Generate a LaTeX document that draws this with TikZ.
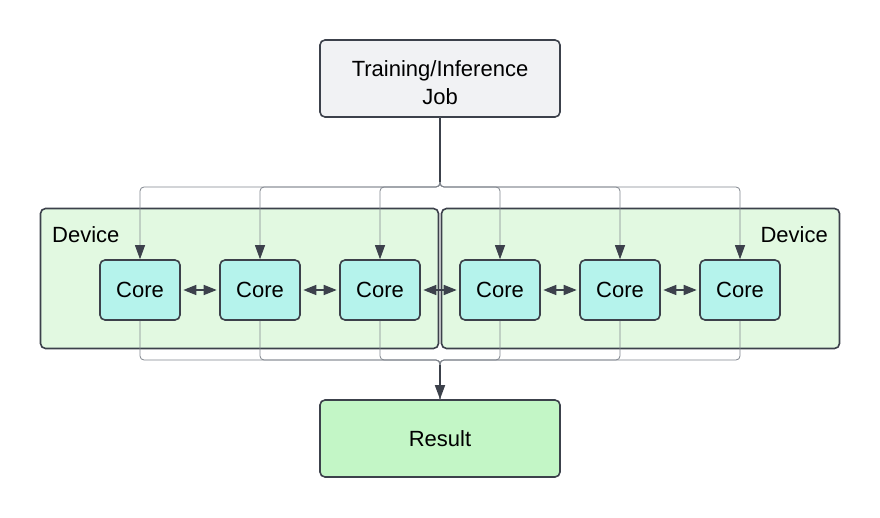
\documentclass[tikz,border=0pt]{standalone}
\usepackage{fontspec}
\setmainfont{Liberation Sans}
\usetikzlibrary{arrows.meta}
\definecolor{edgec}{HTML}{3C414B}
\definecolor{thinc}{HTML}{80858D}
\definecolor{jobfill}{HTML}{F1F2F4}
\definecolor{devfill}{HTML}{E2F9E1}
\definecolor{corefill}{HTML}{B5F3EC}
\definecolor{resfill}{HTML}{C3F6C6}
\begin{document}
\begin{tikzpicture}[x=1pt,y=-1pt,
  txt/.style={font=\fontsize{22}{28}\selectfont},
  box/.style={txt,draw=edgec,line width=1.6pt,rounded corners=5pt,align=center,inner sep=0pt},
  jobbox/.style={box,fill=jobfill,minimum width=240pt,minimum height=77pt},
  devbox/.style={box,fill=devfill,minimum width=398pt,minimum height=140pt},
  corebox/.style={box,fill=corefill,minimum width=80pt,minimum height=60pt},
  resbox/.style={box,fill=resfill,minimum width=240pt,minimum height=77pt},
  arr/.style={-{Triangle[length=14pt,width=10pt,color=edgec]}},
  branch/.style={draw=thinc,line width=0.8pt,rounded corners=4pt},
  trunk/.style={draw=edgec,line width=1.6pt},
  link/.style={draw=edgec,line width=1.6pt,{Triangle[length=13pt,width=10pt]}-{Triangle[length=13pt,width=10pt]},shorten <=2.5pt,shorten >=2.5pt}
]
\useasboundingbox (0,0) rectangle (880,518);
\node[jobbox] (job) at (440,78.5) {\rule{0pt}{24pt}Training/Inference\\Job};
\node[devbox] (dev1) at (239.5,278.5) {};
\node[devbox] (dev2) at (640.5,278.5) {};
\node[txt,anchor=west,inner sep=0pt] (lab1) at (52,235) {Device};
\node[txt,anchor=east,inner sep=0pt] (lab2) at (828,235) {Device};
\foreach \i/\x in {1/140,2/260,3/380,4/500,5/620,6/740}{
  \node[corebox] (c\i) at (\x,290) {Core};
}
\node[resbox] (res) at (440,438.5) {Result};
\coordinate (top) at (440,187);
\coordinate (topend) at (440,182);
\coordinate (bot) at (440,360);
\coordinate (botend) at (440,365);
\foreach \i in {1,...,6}{
  \draw[branch,arr] (job.south) -- (top) -| (c\i.north);
  \draw[branch] (c\i.south) |- (bot) -- (res.north);
}
\draw[trunk] (job.south) -- (topend);
\draw[trunk,arr] (botend) -- (res.north);
\foreach \a/\b in {1/2,2/3,3/4,4/5,5/6}{
  \draw[link] (c\a.east) -- (c\b.west);
}
\end{tikzpicture}
\end{document}
